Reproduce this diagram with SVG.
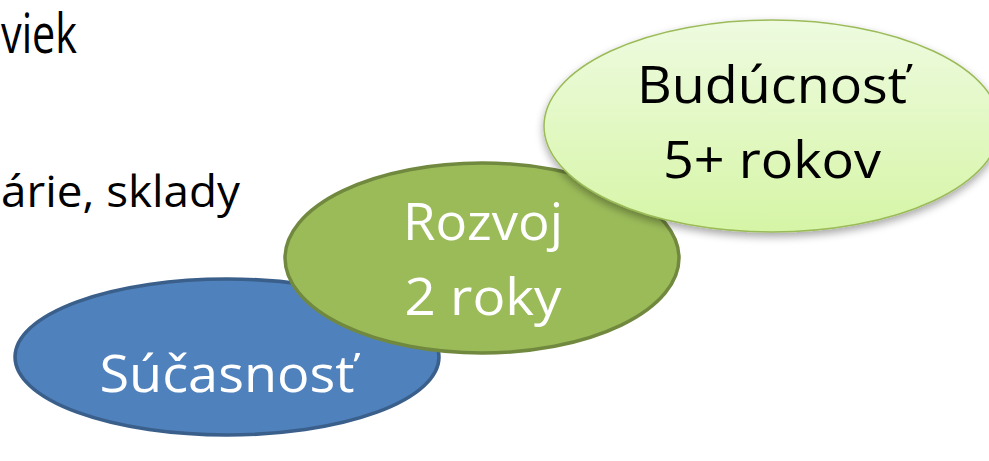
<svg xmlns="http://www.w3.org/2000/svg" width="989" height="461" viewBox="0 0 989 461">
<style>
.t{font-family:"Open Sans","Liberation Sans",Arial,sans-serif;}
.w{fill:#ffffff;}
.k{fill:#000000;}
</style>
<defs>
<linearGradient id="lg" x1="0" y1="0" x2="0" y2="1">
<stop offset="0" stop-color="#eefbe0"/>
<stop offset="1" stop-color="#d6f5a6"/>
</linearGradient>
<filter id="sh" x="-10%" y="-10%" width="120%" height="130%">
<feGaussianBlur in="SourceAlpha" stdDeviation="4"/>
<feOffset dx="0" dy="4"/>
<feComponentTransfer><feFuncA type="linear" slope="0.35"/></feComponentTransfer>
<feMerge><feMergeNode/><feMergeNode in="SourceGraphic"/></feMerge>
</filter>
</defs>
<g id="bg-text">
<text class="t k" x="1" y="53" font-size="54" textLength="76" lengthAdjust="spacingAndGlyphs">viek</text>
<text class="t k" x="1" y="207" font-size="43" textLength="239" lengthAdjust="spacingAndGlyphs">árie, sklady</text>
</g>
<g id="node-sucasnost">
<ellipse cx="227" cy="357" rx="212" ry="78" fill="#4f81bd" stroke="#3a5f8b" stroke-width="3.5"/>
<text class="t w" x="227" y="392" font-size="52" text-anchor="middle" textLength="255" lengthAdjust="spacingAndGlyphs">Súčasnosť</text>
</g>
<g id="node-rozvoj">
<ellipse cx="482" cy="258" rx="197" ry="95" fill="#9bbb59" stroke="#71893f" stroke-width="3.5"/>
<text class="t w" x="483" y="240" font-size="52" text-anchor="middle" textLength="160" lengthAdjust="spacingAndGlyphs">Rozvoj</text>
<text class="t w" x="483" y="315" font-size="52" text-anchor="middle" textLength="157" lengthAdjust="spacingAndGlyphs">2 roky</text>
</g>
<g id="node-buducnost">
<ellipse cx="772" cy="126" rx="228" ry="106" fill="url(#lg)" stroke="#9bbb59" stroke-width="1.5" filter="url(#sh)"/>
<text class="t k" x="772" y="103" font-size="52" text-anchor="middle" textLength="270" lengthAdjust="spacingAndGlyphs">Budúcnosť</text>
<text class="t k" x="772" y="178" font-size="52" text-anchor="middle" textLength="218" lengthAdjust="spacingAndGlyphs">5+ rokov</text>
</g>
<g id="connectors"/>
</svg>
